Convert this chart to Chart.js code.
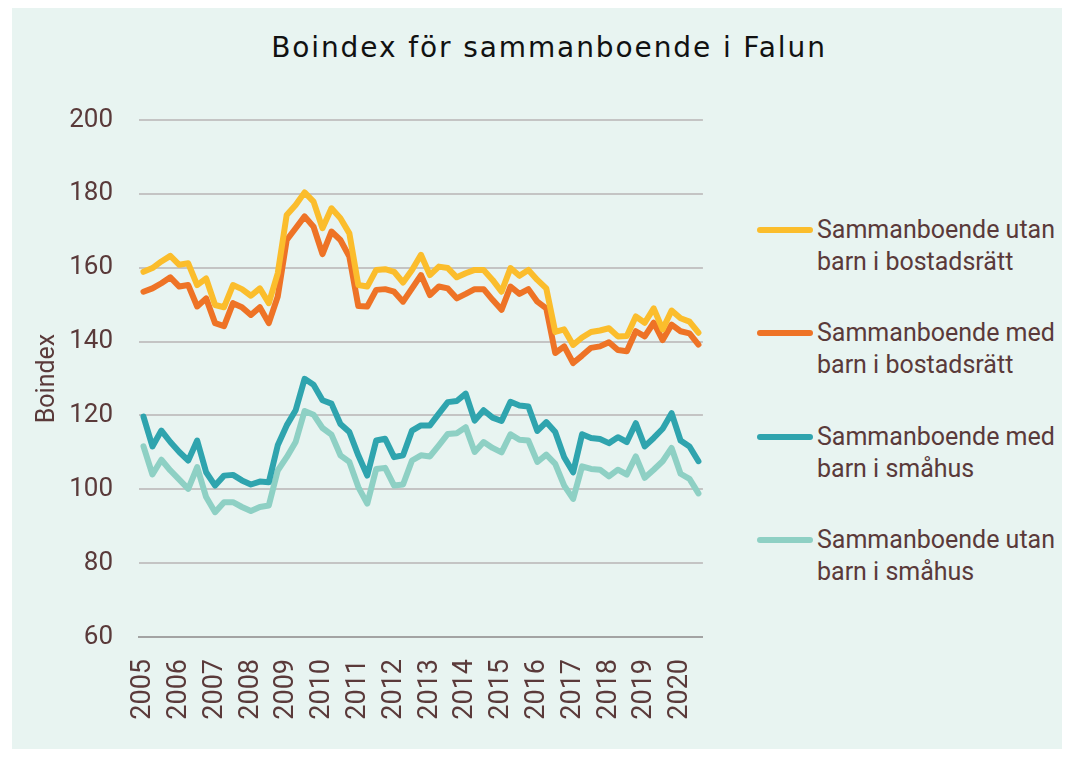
<!DOCTYPE html>
<html lang="sv">
<head>
<meta charset="utf-8">
<script src="https://cdn.jsdelivr.net/npm/chart.js@4.4.1/dist/chart.umd.min.js"></script>
<style>
  html, body { margin: 0; padding: 0; background: #ffffff; }
  body { width: 1074px; height: 757px; position: relative; overflow: hidden; font-family: Roboto, "Noto Sans", sans-serif; }
  #panel { position: absolute; left: 12px; top: 8px; width: 1050px; height: 741px; background: #e8f4f1; }
  #title { position: absolute; left: 0; top: 23px; width: 1074px; text-align: center; font-family: "DejaVu Sans", sans-serif; font-size: 28px; letter-spacing: 1.9px; line-height: 34px; color: #111111; }
  #chartBox { position: absolute; left: 0; top: 0; width: 741px; height: 740px; }
  #legend .item { position: absolute; left: 745px; }
  #legend .swatch { position: absolute; left: 0; top: -3px; width: 56px; height: 6px; border-radius: 3px; }
  #legend .text { position: absolute; left: 60px; top: -16px; width: 260px; font-size: 25px; line-height: 32px; color: #5a3a3a; }
</style>
</head>
<body>
<div id="panel">
  <div id="title">Boindex för sammanboende i Falun</div>
  <div id="chartBox"><canvas id="boChart"></canvas></div>
  <div id="legend"></div>
</div>
<script>
// quarterly values 2005 Q1 - 2020 Q3
const years = [2005, 2006, 2007, 2008, 2009, 2010, 2011, 2012, 2013, 2014, 2015, 2016, 2017, 2018, 2019, 2020];

const utanBostadsratt = [
  158.9, 159.9, 161.7, 163.2, 160.8, 161.2, 155.3, 157.1, 149.9, 149.3, 155.3, 154.2, 152.4, 154.4, 150.4, 158.5,
  174.3, 177.0, 180.4, 177.9, 170.7, 176.1, 173.4, 169.3, 155.3, 154.9, 159.4, 159.6, 158.9, 156.0, 159.4, 163.5,
  158.0, 160.3, 159.9, 157.4, 158.5, 159.4, 159.4, 156.7, 153.5, 159.9, 157.8, 159.4, 156.7, 154.4, 142.6, 143.3,
  139.1, 141.1, 142.6, 143.0, 143.6, 141.4, 141.5, 146.8, 145.1, 149.0, 143.3, 148.4, 146.3, 145.4, 142.4
];
const medBostadsratt = [
  153.5, 154.4, 155.8, 157.4, 154.9, 155.3, 149.5, 151.7, 145.0, 144.2, 150.4, 149.3, 147.2, 149.3, 145.0, 152.2,
  167.5, 170.7, 173.9, 171.1, 163.7, 169.8, 167.5, 163.0, 149.6, 149.5, 154.0, 154.2, 153.5, 150.8, 154.4, 158.0,
  152.6, 154.9, 154.4, 151.7, 152.9, 154.2, 154.2, 151.3, 148.6, 154.9, 152.9, 154.2, 150.8, 149.0, 136.9, 138.7,
  134.2, 136.2, 138.3, 138.7, 139.8, 137.7, 137.4, 142.8, 141.4, 145.1, 140.4, 144.6, 142.8, 142.2, 139.2
];
const medSmahus = [
  119.7, 111.6, 115.9, 112.8, 110.1, 107.8, 113.2, 104.6, 101.0, 103.7, 103.9, 102.4, 101.3, 102.1, 101.9, 111.9,
  117.3, 121.4, 129.9, 128.3, 124.1, 123.2, 117.7, 115.5, 109.2, 103.7, 113.2, 113.7, 108.7, 109.2, 115.9, 117.3,
  117.3, 120.5, 123.6, 123.9, 125.9, 118.6, 121.4, 119.4, 118.5, 123.7, 122.7, 122.4, 115.8, 118.2, 115.5, 108.7,
  104.6, 114.9, 113.9, 113.6, 112.5, 114.1, 112.8, 117.9, 111.6, 113.9, 116.4, 120.6, 113.2, 111.6, 107.6
];
const utanSmahus = [
  111.6, 104.0, 108.0, 105.1, 102.6, 100.1, 106.0, 97.9, 93.8, 96.5, 96.5, 95.2, 94.1, 95.2, 95.6, 105.1,
  108.7, 112.8, 121.2, 120.2, 116.6, 114.8, 109.2, 107.4, 100.6, 96.1, 105.5, 105.8, 101.0, 101.3, 107.8, 109.2,
  108.9, 111.9, 115.0, 115.2, 116.8, 110.1, 112.8, 111.2, 110.0, 114.9, 113.4, 113.2, 107.4, 109.4, 106.9, 101.0,
  97.4, 106.2, 105.5, 105.3, 103.5, 105.3, 104.0, 108.9, 103.1, 105.3, 107.6, 111.2, 104.2, 102.8, 98.9
];

const seriesNames = [
  ["Sammanboende utan", "barn i bostadsrätt"],
  ["Sammanboende med", "barn i bostadsrätt"],
  ["Sammanboende med", "barn i småhus"],
  ["Sammanboende utan", "barn i småhus"]
];
const seriesColors = ["#fbbd2c", "#ee7326", "#2fa4ae", "#8ed0c4"];

const labels = [];
years.forEach(y => {
  for (let q = 1; q <= 4; q++) labels.push(y + " K" + q);
});
labels.length = utanBostadsratt.length;

const textColor = "#5a3a3a";
const ctx = document.getElementById("boChart").getContext("2d");

const seriesData = [utanBostadsratt, medBostadsratt, medSmahus, utanSmahus];
const datasets = seriesData.map((d, i) => ({
  label: seriesNames[i].join(" "),
  data: d,
  borderColor: seriesColors[i],
  backgroundColor: seriesColors[i],
  borderWidth: 6,
  borderJoinStyle: "round",
  borderCapStyle: "round",
  pointRadius: 0,
  tension: 0,
  fill: false
}));

new Chart(ctx, {
  type: "line",
  data: { labels: labels, datasets: datasets },
  options: {
    responsive: true,
    maintainAspectRatio: false,
    animation: false,
    layout: { padding: { top: 112, right: 19, bottom: 11, left: 0 } },
    plugins: {
      legend: { display: false },
      tooltip: { enabled: false }
    },
    scales: {
      x: {
        offset: true,
        grid: { display: false, drawTicks: false },
        border: { display: true, color: "#a3a3a3", width: 2 },
        ticks: {
          autoSkip: false,
          minRotation: 90,
          maxRotation: 90,
          padding: 22,
          color: textColor,
          font: { family: "Roboto", size: 27 },
          callback: (v, i) => (i % 4 === 0 ? String(years[i / 4]) : "")
        },
        afterFit: s => { s.height = 100; }
      },
      y: {
        min: 60,
        max: 200,
        ticks: {
          stepSize: 20,
          padding: 26,
          color: textColor,
          font: { family: "Roboto", size: 26 }
        },
        grid: { color: "#c4c4c4", lineWidth: 2, drawTicks: false },
        border: { display: false },
        title: {
          display: true,
          text: "Boindex",
          color: textColor,
          font: { family: "Roboto", size: 25 },
          padding: { top: 21, bottom: 0 }
        },
        afterFit: s => { s.width = 127; }
      }
    }
  }
});

// legend with two-line labels
const legend = document.getElementById("legend");
const legendTops = [222, 325, 429, 532];
seriesNames.forEach((name, i) => {
  const item = document.createElement("div");
  item.className = "item";
  item.style.top = legendTops[i] + "px";
  const sw = document.createElement("div");
  sw.className = "swatch";
  sw.style.background = seriesColors[i];
  const tx = document.createElement("div");
  tx.className = "text";
  tx.innerHTML = name[0] + "<br>" + name[1];
  item.appendChild(sw);
  item.appendChild(tx);
  legend.appendChild(item);
});
</script>
</body>
</html>
